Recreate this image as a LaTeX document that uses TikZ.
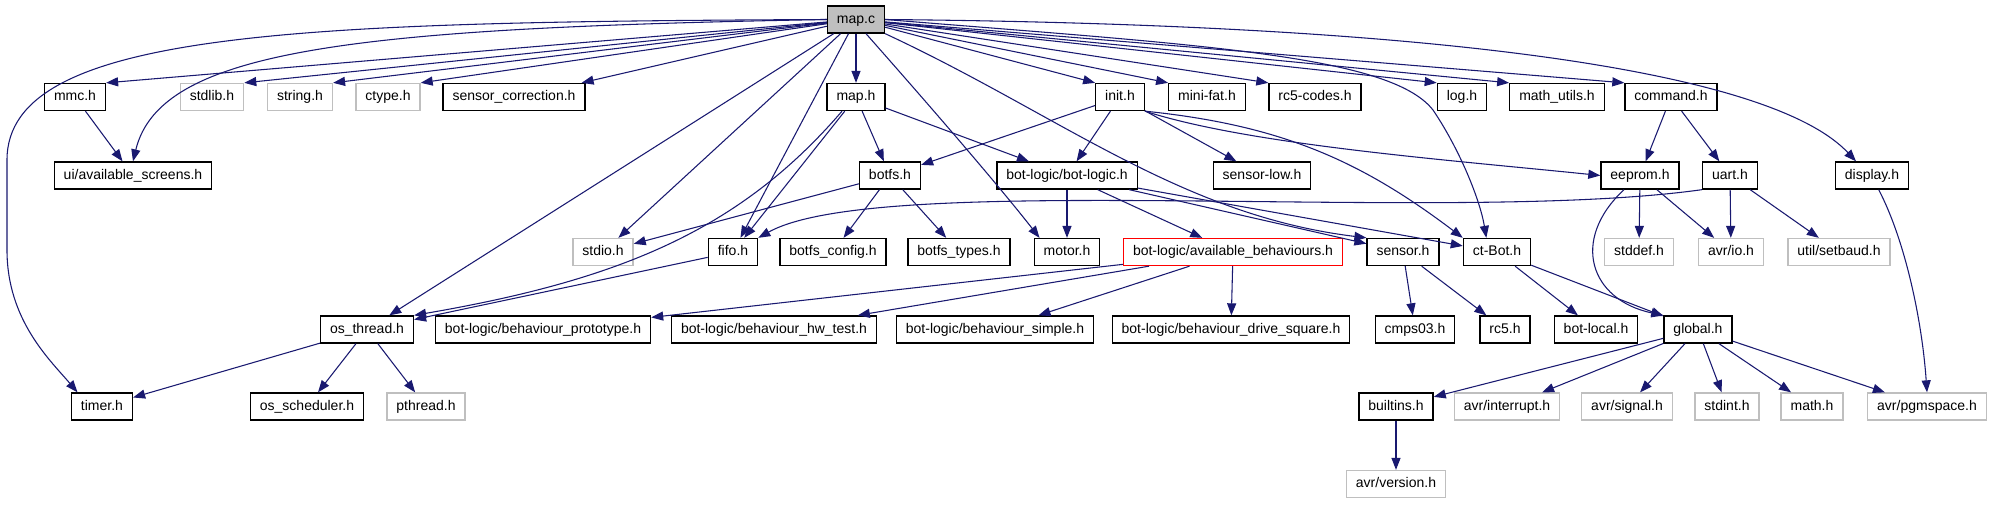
\documentclass[tikz,border=0pt]{standalone}
\usepackage{fontspec}
\setmainfont{Liberation Sans}
\usepackage{tikz}
\usetikzlibrary{arrows.meta}

\definecolor{edgeblue}{HTML}{191970}
\definecolor{extgray}{HTML}{BFBFBF}

\tikzset{
  hfile/.style={draw=black, fill=white, line width=1pt, inner xsep=7.1pt, inner ysep=0pt,
    minimum height=20.25pt, text height=7.6pt, text depth=2.2pt,
    font=\fontsize{10.5}{12}\selectfont},
  extfile/.style={hfile, draw=extgray},
  rootfile/.style={hfile, fill=extgray},
  markfile/.style={hfile, draw=red},
  dep/.style={draw=edgeblue, line width=0.8pt, -{Triangle[length=9pt,width=6.8pt]}},
}

\begin{document}
\begin{tikzpicture}[x=0.75pt, y=-0.75pt]
        \useasboundingbox (0,0) rectangle (1993,504);
        % Rank 0
        \node[rootfile] (mapc) at (856,19.5) {map.c};
        % Rank 1
        \node[hfile]   (mmc)         at (75,97)   {mmc.h};
        \node[extfile] (stdlib)      at (212,97)  {stdlib.h};
        \node[extfile] (string)      at (300,97)  {string.h};
        \node[extfile] (ctype)       at (388,97)  {ctype.h};
        \node[hfile]   (sensorcorr)  at (514,97)  {sensor\_correction.h};
        \node[hfile]   (maph)        at (856,97)  {map.h};
        \node[hfile]   (init)        at (1120,97) {init.h};
        \node[hfile]   (minifat)     at (1207,97) {mini-fat.h};
        \node[hfile]   (rcfivecodes) at (1315,97) {rc5-codes.h};
        \node[hfile]   (logh)        at (1462,97) {log.h};
        \node[hfile]   (mathutils)   at (1557,97) {math\_utils.h};
        \node[hfile]   (command)     at (1671,97) {command.h};
        % Rank 2
        \node[hfile] (uiscreens) at (133,175.5)  {ui/available\_screens.h};
        \node[hfile] (botfs)     at (890,175.5)  {botfs.h};
        \node[hfile] (botlogic)  at (1067,175.5) {bot-logic/bot-logic.h};
        \node[hfile] (sensorlow) at (1262,175.5) {sensor-low.h};
        \node[hfile] (eeprom)    at (1640,175.5) {eeprom.h};
        \node[hfile] (uart)      at (1730,175.5) {uart.h};
        \node[hfile] (display)   at (1872,175.5) {display.h};
        % Rank 3
        \node[extfile]  (stdio)       at (603,252)  {stdio.h};
        \node[hfile]    (fifo)        at (733,252)  {fifo.h};
        \node[hfile]    (botfsconfig) at (833,252)  {botfs\_config.h};
        \node[hfile]    (botfstypes)  at (959,252)  {botfs\_types.h};
        \node[hfile]    (motor)       at (1067,252) {motor.h};
        \node[markfile] (avbeh)       at (1233,252) {bot-logic/available\_behaviours.h};
        \node[hfile]    (sensor)      at (1403,252) {sensor.h};
        \node[hfile]    (ctbot)       at (1497,252) {ct-Bot.h};
        \node[extfile]  (stddef)      at (1639,252) {stddef.h};
        \node[extfile]  (avrio)       at (1731,252) {avr/io.h};
        \node[extfile]  (setbaud)     at (1839,252) {util/setbaud.h};
        % Rank 4
        \node[hfile] (osthread)  at (367,329.5)  {os\_thread.h};
        \node[hfile] (behproto)  at (543,329.5)  {bot-logic/behaviour\_prototype.h};
        \node[hfile] (behhw)     at (774,329.5)  {bot-logic/behaviour\_hw\_test.h};
        \node[hfile] (behsimple) at (995,329.5)  {bot-logic/behaviour\_simple.h};
        \node[hfile] (behsquare) at (1231,329.5) {bot-logic/behaviour\_drive\_square.h};
        \node[hfile] (cmps)      at (1415,329.5) {cmps03.h};
        \node[hfile] (rcfive)    at (1505,329.5) {rc5.h};
        \node[hfile] (botlocal)  at (1596,329.5) {bot-local.h};
        \node[hfile] (global)    at (1698,329.5) {global.h};
        % Rank 5
        \node[hfile]   (timer)        at (102,406.5)  {timer.h};
        \node[hfile]   (osscheduler)  at (307,406.5)  {os\_scheduler.h};
        \node[extfile] (pthread)      at (426,406.5)  {pthread.h};
        \node[hfile]   (builtins)     at (1396,406.5) {builtins.h};
        \node[extfile] (avrinterrupt) at (1507,406.5) {avr/interrupt.h};
        \node[extfile] (avrsignal)    at (1627,406.5) {avr/signal.h};
        \node[extfile] (stdint)       at (1727,406.5) {stdint.h};
        \node[extfile] (mathh)        at (1812,406.5) {math.h};
        \node[extfile] (pgmspace)     at (1927,406.5) {avr/pgmspace.h};
        % Rank 6
        \node[extfile] (avrversion) at (1396,484) {avr/version.h};

        % map.c, left fan
        \draw[dep] (mapc.west) .. controls (300,22) and (7,30) .. (7,160) -- (7,250)
                   .. controls (7,320) and (50,360) .. ([xshift=5pt]timer.north west);
        \draw[dep] (mapc) -- (mmc.north east);
        \draw[dep] (mapc.west) .. controls (350,28) and (160,50) .. (uiscreens.north);
        \draw[dep] (mapc) -- (stdlib.north east);
        \draw[dep] (mapc) -- (string.north east);
        \draw[dep] (mapc) -- (ctype.north east);
        \draw[dep] (mapc) -- ([xshift=-3pt]sensorcorr.north east);
        \draw[dep] (mapc) -- (osthread);
        \draw[dep] (mapc) -- (stdio);
        \draw[dep] (mapc) -- (fifo);
        \draw[dep] (mapc) -- (maph);
        \draw[dep] ([xshift=7.5pt]mapc.south) .. controls (960,140) and (1010,200) .. ([xshift=4.5pt]motor.north west);
        \draw[dep] (mapc.south east) .. controls (1060,115) and (1180,215) .. (sensor.north west);
        % map.c, right fan
        \draw[dep] (mapc) -- (init.north west);
        \draw[dep] (mapc) -- (minifat.north west);
        \draw[dep] (mapc) -- (rcfivecodes.north west);
        \draw[dep] (mapc) -- (logh.north west);
        \draw[dep] (mapc) -- (mathutils.north west);
        \draw[dep] (mapc) -- (command.north west);
        \draw[dep] (mapc.east) .. controls (1200,45) and (1390,55) .. (1433,110)
                   .. controls (1460,150) and (1480,200) .. ([xshift=-8pt]ctbot.north);
        \draw[dep] (mapc.east) .. controls (1500,25) and (1780,80) .. ([xshift=-12pt]display.north);

        % second level
        \draw[dep] (mmc) -- (uiscreens);
        \draw[dep] (maph) -- (botfs);
        \draw[dep] (maph) -- (botlogic);
        \draw[dep] (maph) -- (fifo);
        \draw[dep] ([xshift=-10.5pt]maph.south) .. controls (740,230) and (620,280) .. (osthread.north east);
        \draw[dep] (init) -- (botfs);
        \draw[dep] (init) -- (botlogic);
        \draw[dep] (init) -- (sensorlow);
        \draw[dep] (init.south east) .. controls (1250,145) and (1450,160) .. (eeprom.west);
        \draw[dep] (init.south east) .. controls (1280,125) and (1360,160) .. (ctbot.north west);
        \draw[dep] (command) -- (eeprom);
        \draw[dep] (command) -- (uart);
        \draw[dep] ([xshift=5pt]display.south) .. controls (1905,240) and (1922,320) .. (pgmspace.north);

        % third level
        \draw[dep] (botfs) -- (stdio);
        \draw[dep] (botfs) -- (botfsconfig);
        \draw[dep] (botfs) -- (botfstypes);
        \draw[dep] (botlogic) -- (motor);
        \draw[dep] (botlogic) -- (avbeh);
        \draw[dep] (botlogic) -- (sensor);
        \draw[dep] (botlogic) -- (ctbot);
        \draw[dep] ([xshift=-12pt]eeprom.south) .. controls (1570,240) and (1590,300) .. (global.north west);
        \draw[dep] (eeprom) -- (stddef);
        \draw[dep] (eeprom) -- (avrio);
        \draw[dep] (uart) -- (avrio);
        \draw[dep] (uart) -- (setbaud);
        \draw[dep] (uart.south west) .. controls (1450,225) and (880,170) .. (fifo.north east);

        % lower levels
        \draw[dep] (fifo) -- (osthread);
        \draw[dep] (avbeh) -- (behproto);
        \draw[dep] (avbeh) -- (behhw);
        \draw[dep] (avbeh) -- (behsimple);
        \draw[dep] (avbeh) -- (behsquare);
        \draw[dep] (sensor) -- (cmps);
        \draw[dep] (sensor) -- (rcfive);
        \draw[dep] (ctbot) -- (botlocal);
        \draw[dep] (ctbot) -- (global);
        \draw[dep] (global) -- (builtins);
        \draw[dep] (global) -- (avrinterrupt);
        \draw[dep] (global) -- (avrsignal);
        \draw[dep] (global) -- (stdint);
        \draw[dep] (global) -- (mathh);
        \draw[dep] (global) -- (pgmspace);
        \draw[dep] (builtins) -- (avrversion);
        \draw[dep] (osthread) -- (timer);
        \draw[dep] (osthread) -- (osscheduler);
        \draw[dep] (osthread) -- (pthread);
      \end{tikzpicture}
\end{document}
